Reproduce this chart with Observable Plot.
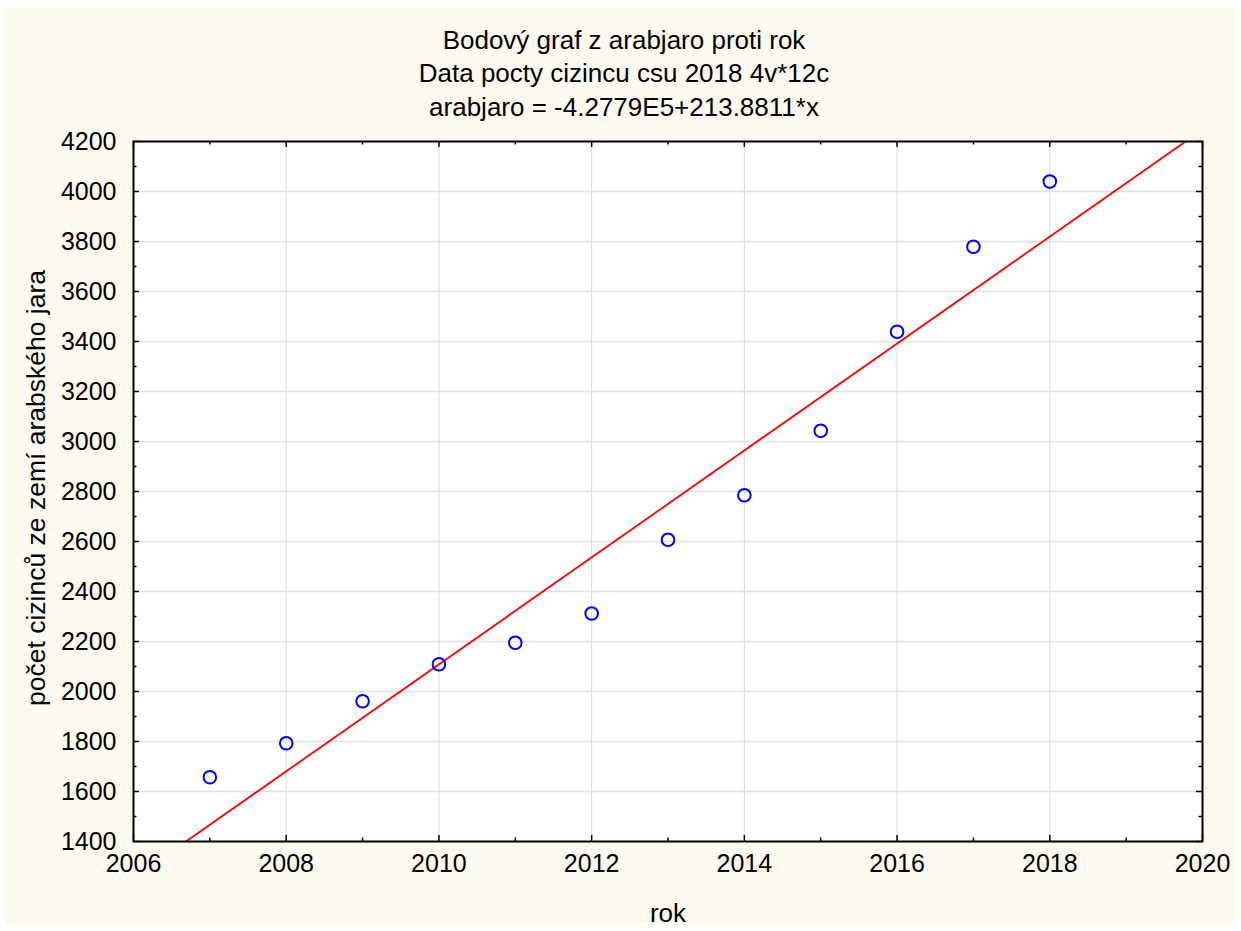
<!DOCTYPE html>
<html>
<head>
<meta charset="utf-8">
<script src="https://cdn.jsdelivr.net/npm/d3@7"></script>
<script src="https://cdn.jsdelivr.net/npm/@observablehq/plot@0.6"></script>
<style>
  html, body { margin: 0; padding: 0; background: #ffffff; }
  #wrap { position: relative; width: 1241px; height: 931px; background: #ffffff; font-family: 'Liberation Sans', Arial, sans-serif; color: #000; }
  #cream { position: absolute; left: 6px; top: 6px; width: 1229px; height: 919px; background: #FEF9EE; }
  #chart { position: absolute; left: 0; top: 0; }
  .title { position: absolute; left: 0; width: 1248px; text-align: center; font-size: 26px; line-height: 30px; white-space: nowrap; }
  #ylab { position: absolute; left: 36px; top: 488px; font-size: 26.5px; line-height: 30px; white-space: nowrap; transform: translate(-50%, -50%) rotate(-90deg); }
</style>
</head>
<body>
<div id="wrap"><div id="cream"></div><div id="chart"></div></div>
<script>
const titleLines = [
  "Bodový graf z arabjaro proti rok",
  "Data pocty cizincu csu 2018 4v*12c",
  "arabjaro = -4.2779E5+213.8811*x"
];
const xLabel = "rok";
const yLabel = "počet cizinců ze zemí arabského jara";

const years = [2007, 2008, 2009, 2010, 2011, 2012, 2013, 2014, 2015, 2016, 2017, 2018];
const arabjaro = [1657, 1793, 1961, 2109, 2195, 2312, 2607, 2785, 3043, 3439, 3779, 4040];

const xTicks = [2006, 2008, 2010, 2012, 2014, 2016, 2018, 2020];
const xMinor = [2007, 2009, 2011, 2013, 2015, 2017, 2019];
const yTicks = [1400, 1600, 1800, 2000, 2200, 2400, 2600, 2800, 3000, 3200, 3400, 3600, 3800, 4000, 4200];
const yMinor = [1500, 1700, 1900, 2100, 2300, 2500, 2700, 2900, 3100, 3300, 3500, 3700, 3900, 4100];

const xDomain = [2006, 2020];
const yDomain = [1400, 4200];

const points = years.map((x, i) => ({x, y: arabjaro[i]}));

// least-squares fit of the plotted data
const mx = d3.mean(years), my = d3.mean(arabjaro);
const slope = d3.sum(points, d => (d.x - mx) * (d.y - my)) / d3.sum(points, d => (d.x - mx) ** 2);
const intercept = my - slope * mx;
const fitLine = xDomain.map(x => ({x, y: intercept + slope * x}));

const W = 1241, H = 931;
const mL = 133, mR = 39, mT = 141, mB = 90;
const fw = W - mL - mR, fh = H - mT - mB;
const font = "'Liberation Sans', Arial, sans-serif";
const fs = 25;

const chart = Plot.plot({
  width: W,
  height: H,
  marginLeft: mL,
  marginRight: mR,
  marginTop: mT,
  marginBottom: mB,
  style: {background: "transparent", fontFamily: font, fontSize: fs + "px", color: "#000"},
  x: {domain: xDomain},
  y: {domain: yDomain},
  marks: [
    Plot.frame({fill: "white", stroke: null}),
    Plot.gridX(xTicks, {stroke: "#d8d8d8", strokeOpacity: 1, strokeWidth: 1}),
    Plot.gridY(yTicks, {stroke: "#e0e0e0", strokeOpacity: 1, strokeWidth: 1.5}),
    Plot.line(fitLine, {x: "x", y: "y", stroke: "#ff0000", strokeWidth: 1.8, clip: true}),
    Plot.dot(points, {x: "x", y: "y", r: 6.3, stroke: "#0000ff", strokeWidth: 2, fill: "none"}),
    // inward ticks
    Plot.ruleX(xTicks, {x: d => d, insetTop: fh - 6, stroke: "#000", strokeWidth: 1.5}),
    Plot.ruleX(xTicks, {x: d => d, insetBottom: fh - 6, stroke: "#000", strokeWidth: 1.5}),
    Plot.ruleX(xMinor, {x: d => d, insetTop: fh - 3.5, stroke: "#000", strokeWidth: 1.5}),
    Plot.ruleX(xMinor, {x: d => d, insetBottom: fh - 3.5, stroke: "#000", strokeWidth: 1.5}),
    Plot.ruleY(yTicks, {y: d => d, insetRight: fw - 6, stroke: "#000", strokeWidth: 1.5}),
    Plot.ruleY(yTicks, {y: d => d, insetLeft: fw - 6, stroke: "#000", strokeWidth: 1.5}),
    Plot.ruleY(yMinor, {y: d => d, insetRight: fw - 3.5, stroke: "#000", strokeWidth: 1.5}),
    Plot.ruleY(yMinor, {y: d => d, insetLeft: fw - 3.5, stroke: "#000", strokeWidth: 1.5}),
    Plot.frame({stroke: "#000", strokeWidth: 2}),
    Plot.axisX(xTicks, {tickSize: 0, tickPadding: 13, fontSize: fs, label: null, tickFormat: d => String(d)}),
    Plot.axisY(yTicks, {tickSize: 0, tickPadding: 17, fontSize: fs, label: null, tickFormat: d => String(d)}),
    Plot.text([xLabel], {text: d => d, frameAnchor: "bottom", dy: 72, fontSize: 26, lineAnchor: "middle"})
  ]
});
const wrap = document.getElementById("wrap");
document.getElementById("chart").appendChild(chart);

const titleTops = [25, 58, 92];
titleLines.forEach((t, i) => {
  const d = document.createElement("div");
  d.className = "title";
  d.style.top = titleTops[i] + "px";
  d.textContent = t;
  wrap.appendChild(d);
});
const yl = document.createElement("div");
yl.id = "ylab";
yl.textContent = yLabel;
wrap.appendChild(yl);
</script>
</body>
</html>
